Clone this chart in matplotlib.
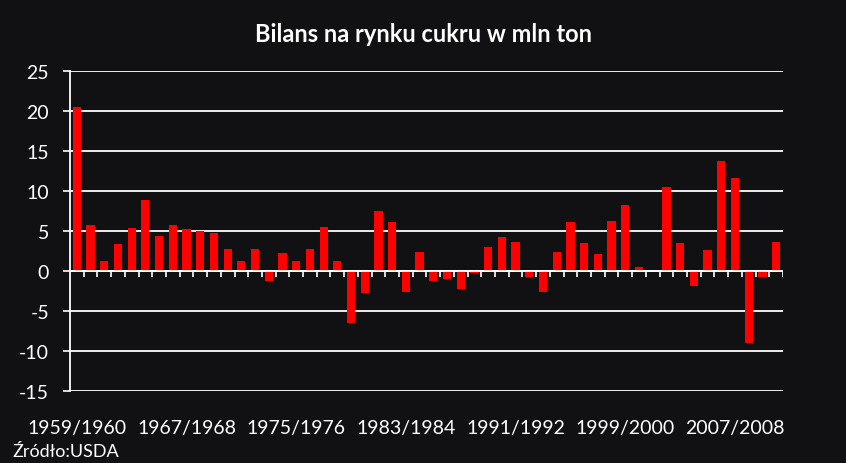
import matplotlib
matplotlib.use("Agg")
import matplotlib.pyplot as plt
import numpy as np

seasons = [f"{y}/{y + 1}" for y in range(1959, 2011)]
balance = [
    20.5, 5.8, 1.2, 3.4, 5.4, 8.9, 4.4, 5.7, 5.25, 5.0,
    4.7, 2.75, 1.2, 2.75, -1.2, 2.25, 1.2, 2.75, 5.5, 1.2,
    -6.5, -2.75, 7.5, 6.1, -2.6, 2.4, -1.3, -1.0, -2.25, -0.2,
    3.0, 4.25, 3.65, -0.75, -2.6, 2.4, 6.1, 3.5, 2.1, 6.25,
    8.25, 0.5, 0.0, 10.5, 3.5, -1.9, 2.6, 13.75, 11.6, -9.0,
    -0.75, 3.6,
]
label_every = 8
y_ticks = [-15, -10, -5, 0, 5, 10, 15, 20, 25]

bg = "#111114"
plt.rcParams["font.family"] = ["Lato", "DejaVu Sans"]
plt.rcParams["axes.unicode_minus"] = False

fig = plt.figure(figsize=(8.46, 4.64), dpi=100, facecolor=bg)
ax = fig.add_axes([0.0827, 0.155, 0.8428, 0.690], facecolor=bg)

x = np.arange(len(seasons))
ax.bar(x, balance, width=0.6, color="#ff0000", zorder=3)

ax.set_xlim(-0.5, len(seasons) - 0.5)
ax.set_ylim(-15, 25)
ax.set_yticks(y_ticks)
ax.yaxis.grid(True, color="white", linewidth=1.3, zorder=1)
ax.set_axisbelow(True)

# zero line with category separators
ax.axhline(0, color="white", linewidth=1.3, zorder=4)
ax.vlines(x + 0.5, -0.7, 0, color="white", linewidth=1.2, zorder=4)

ax.set_xticks(x[::label_every])
ax.set_xticklabels(seasons[::label_every])
ax.tick_params(axis="x", length=0, pad=20, colors="white", labelsize=14)
ax.tick_params(axis="y", length=5, width=1.2, colors="white", labelsize=14, pad=10)

for side in ["top", "right", "bottom"]:
    ax.spines[side].set_visible(False)
ax.spines["left"].set_color("white")
ax.spines["left"].set_linewidth(1.3)

fig.text(0.5, 0.925, "Bilans na rynku cukru w mln ton", ha="center", va="center",
         color="white", fontsize=17, fontweight="bold")
fig.text(0.015, 0.025, "Źródło:USDA", ha="left", va="center", color="white", fontsize=13)

fig.savefig("out.png", dpi=100, facecolor=bg)
